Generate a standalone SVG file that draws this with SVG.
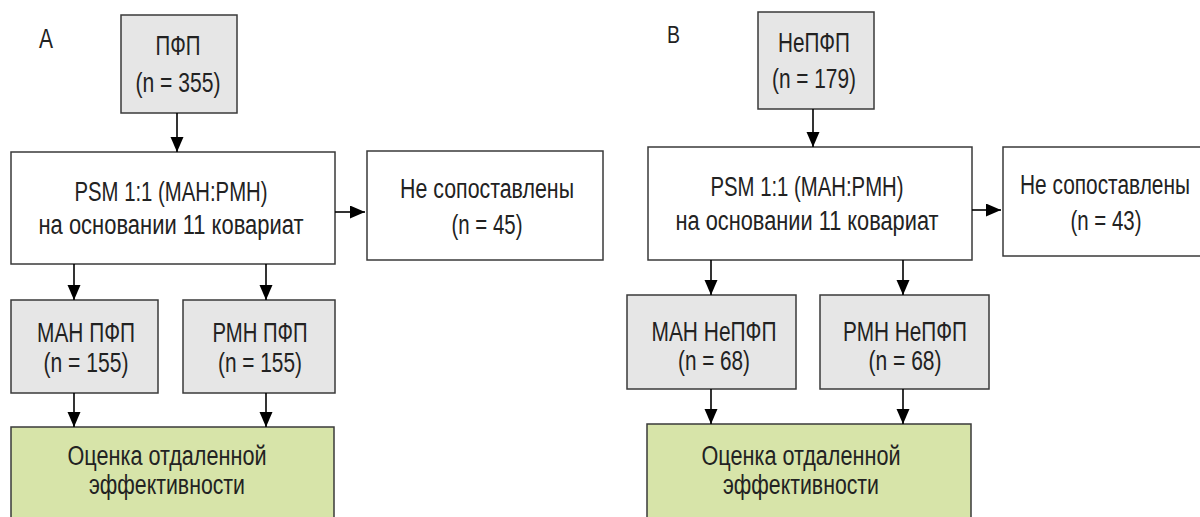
<svg xmlns="http://www.w3.org/2000/svg" width="1200" height="517" viewBox="0 0 1200 517">
<style>
  .box { stroke: #3a3a3a; stroke-width: 1.5; }
  .gray { fill: #e6e6e6; }
  .white { fill: #ffffff; }
  .green { fill: #d7e4a9; }
  text { font-family: "Liberation Sans Narrow", "Liberation Sans", Arial, sans-serif; font-size: 27px; fill: #222; text-anchor: middle; }
  .lbl { text-anchor: start; }
  .conn line { stroke: #000; stroke-width: 1.6; }
</style>
<defs>
  <marker id="ah" markerUnits="userSpaceOnUse" markerWidth="16" markerHeight="14" refX="15" refY="6.5" orient="auto">
    <path d="M0,0 L15,6.5 L0,13 z" fill="#000"/>
  </marker>
</defs>
<rect width="1200" height="517" fill="#ffffff"/>

<text class="lbl" x="39" y="48" style="font-size:27px" textLength="14" lengthAdjust="spacingAndGlyphs">A</text>
<text class="lbl" x="667" y="43" style="font-size:23px" textLength="13" lengthAdjust="spacingAndGlyphs">B</text>

<g id="a-pfp">
  <rect class="box gray" x="121" y="15" width="116" height="98"/>
  <text x="178" y="55" textLength="45" lengthAdjust="spacingAndGlyphs">ПФП</text>
  <text x="178" y="92" textLength="85" lengthAdjust="spacingAndGlyphs">(n = 355)</text>
</g>
<g id="a-psm">
  <rect class="box white" x="11" y="152" width="324" height="112"/>
  <text x="171" y="201" textLength="193" lengthAdjust="spacingAndGlyphs">PSM 1:1 (MAH:PMH)</text>
  <text x="171" y="234" textLength="265" lengthAdjust="spacingAndGlyphs">на основании 11 ковариат</text>
</g>
<g id="a-unmatched">
  <rect class="box white" x="367" y="151" width="236" height="109"/>
  <text x="487" y="198" textLength="174" lengthAdjust="spacingAndGlyphs">Не сопоставлены</text>
  <text x="487" y="234" textLength="71" lengthAdjust="spacingAndGlyphs">(n = 45)</text>
</g>
<g id="a-man">
  <rect class="box gray" x="11" y="300" width="147" height="93"/>
  <text x="86" y="342" textLength="98" lengthAdjust="spacingAndGlyphs">МАН ПФП</text>
  <text x="86" y="372" textLength="85" lengthAdjust="spacingAndGlyphs">(n = 155)</text>
</g>
<g id="a-rmn">
  <rect class="box gray" x="183" y="300" width="152" height="93"/>
  <text x="260" y="342" textLength="95" lengthAdjust="spacingAndGlyphs">РМН ПФП</text>
  <text x="260" y="372" textLength="84" lengthAdjust="spacingAndGlyphs">(n = 155)</text>
</g>
<g id="a-outcome">
  <rect class="box green" x="11" y="427" width="323" height="110"/>
  <text x="167" y="465" textLength="199" lengthAdjust="spacingAndGlyphs">Оценка отдаленной</text>
  <text x="167" y="494" textLength="156" lengthAdjust="spacingAndGlyphs">эффективности</text>
</g>

<g id="b-nepfp">
  <rect class="box gray" x="758" y="12" width="116" height="97"/>
  <text x="814" y="52" textLength="72" lengthAdjust="spacingAndGlyphs">НеПФП</text>
  <text x="814" y="88" textLength="84" lengthAdjust="spacingAndGlyphs">(n = 179)</text>
</g>
<g id="b-psm">
  <rect class="box white" x="648" y="147" width="324" height="113"/>
  <text x="807" y="196" textLength="193" lengthAdjust="spacingAndGlyphs">PSM 1:1 (MAH:PMH)</text>
  <text x="807" y="230" textLength="263" lengthAdjust="spacingAndGlyphs">на основании 11 ковариат</text>
</g>
<g id="b-unmatched">
  <rect class="box white" x="1003" y="147" width="236" height="109"/>
  <text x="1105" y="194" textLength="170" lengthAdjust="spacingAndGlyphs">Не сопоставлены</text>
  <text x="1106" y="230" textLength="71" lengthAdjust="spacingAndGlyphs">(n = 43)</text>
</g>
<g id="b-man">
  <rect class="box gray" x="627" y="295" width="169" height="94"/>
  <text x="714" y="341" textLength="125" lengthAdjust="spacingAndGlyphs">МАН НеПФП</text>
  <text x="714" y="370" textLength="72" lengthAdjust="spacingAndGlyphs">(n = 68)</text>
</g>
<g id="b-rmn">
  <rect class="box gray" x="820" y="295" width="169" height="94"/>
  <text x="905" y="341" textLength="124" lengthAdjust="spacingAndGlyphs">РМН НеПФП</text>
  <text x="905" y="370" textLength="73" lengthAdjust="spacingAndGlyphs">(n = 68)</text>
</g>
<g id="b-outcome">
  <rect class="box green" x="647" y="424" width="324" height="113"/>
  <text x="801" y="465" textLength="199" lengthAdjust="spacingAndGlyphs">Оценка отдаленной</text>
  <text x="801" y="494" textLength="156" lengthAdjust="spacingAndGlyphs">эффективности</text>
</g>

<g id="connectors" class="conn">
  <line x1="177" y1="113" x2="177" y2="152" marker-end="url(#ah)"/>
  <line x1="335" y1="212" x2="365" y2="212" marker-end="url(#ah)"/>
  <line x1="74" y1="264" x2="74" y2="300" marker-end="url(#ah)"/>
  <line x1="266" y1="264" x2="266" y2="300" marker-end="url(#ah)"/>
  <line x1="74" y1="393" x2="74" y2="427" marker-end="url(#ah)"/>
  <line x1="266" y1="393" x2="266" y2="427" marker-end="url(#ah)"/>
  <line x1="813" y1="109" x2="813" y2="147" marker-end="url(#ah)"/>
  <line x1="972" y1="210" x2="1001" y2="210" marker-end="url(#ah)"/>
  <line x1="711" y1="260" x2="711" y2="295" marker-end="url(#ah)"/>
  <line x1="903" y1="260" x2="903" y2="295" marker-end="url(#ah)"/>
  <line x1="711" y1="389" x2="711" y2="424" marker-end="url(#ah)"/>
  <line x1="903" y1="389" x2="903" y2="424" marker-end="url(#ah)"/>
</g>
</svg>
